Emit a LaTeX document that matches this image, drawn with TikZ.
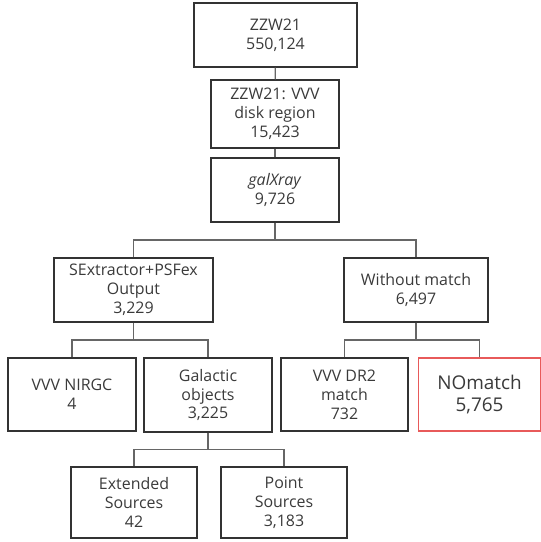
\documentclass[tikz,border=0pt]{standalone}
\usepackage{fontspec}
\setmainfont{Open Sans}
\usetikzlibrary{calc}
\definecolor{boxgray}{HTML}{333333}
\definecolor{linegray}{HTML}{666666}
\definecolor{txtgray}{HTML}{3A3A3A}
\definecolor{nored}{HTML}{E85A5A}
\tikzset{
  bx/.style={draw=boxgray, line width=1.3pt, align=center, inner sep=0pt,
    font=\fontsize{16}{19}\selectfont, text=txtgray},
  ln/.style={draw=linegray, line width=1.3pt},
}
% parent -> child, bar halfway between them
\newcommand\branch[2]{
  \draw[ln] (#1.south) |- ($(#1.south)!.5!(#2.north)$) -| (#2.north);
}

\begin{document}
\begin{tikzpicture}[x=1bp, y=-1bp]
  \useasboundingbox (0,0) rectangle (541,542);

  \node[bx, minimum width=163bp, minimum height=64bp] (zzw) at (275.5,35) {ZZW21\\550,124};
  \node[bx, minimum width=128bp, minimum height=68bp] (disk) at (275,114) {ZZW21: VVV\\disk region\\15,423};
  \node[bx, minimum width=128bp, minimum height=64bp] (galx) at (275,190) {\textit{galXray}\\9,726};

  \node[bx, minimum width=159bp, minimum height=64bp] (sext) at (133.5,290) {SExtractor+PSFex\\Output\\3,229};
  \node[bx, minimum width=144bp, minimum height=64bp] (wom) at (416,290) {Without match\\6,497};

  \node[bx, minimum width=128bp, minimum height=73bp] (nirgc) at (72,394.5) {VVV NIRGC\\4};
  \node[bx, minimum width=128bp, minimum height=74bp] (gal) at (208,395) {Galactic\\objects\\3,225};
  \node[bx, minimum width=127bp, minimum height=73bp] (dr2) at (344.5,394.5) {VVV DR2\\match\\732};
  \node[bx, draw=nored, minimum width=122bp, minimum height=73bp,
    font=\fontsize{19}{23}\selectfont] (nom) at (479.5,394.5) {NOmatch\\5,765};

  \node[bx, minimum width=126bp, minimum height=71bp] (ext) at (134,502.5) {Extended\\Sources\\42};
  \node[bx, minimum width=126bp, minimum height=71bp] (pts) at (284,502.5) {Point\\Sources\\3,183};

  \draw[ln] (zzw) -- (disk);
  \draw[ln] (disk) -- (galx);
  \branch{galx}{sext}
  \branch{galx}{wom}
  \branch{sext}{nirgc}
  \branch{sext}{gal}
  \branch{wom}{dr2}
  \branch{wom}{nom}
  \branch{gal}{ext}
  \branch{gal}{pts}
\end{tikzpicture}
\end{document}
